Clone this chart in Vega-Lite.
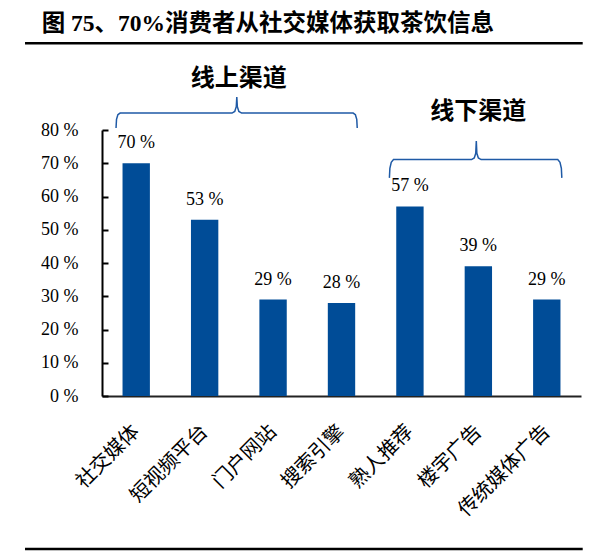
{
  "$schema": "https://vega.github.io/schema/vega-lite/v6.json",
  "width": 479,
  "height": 266,
  "autosize": "none",
  "padding": {"left": 102, "top": 130, "right": 25, "bottom": 158},
  "background": "white",
  "config": {"view": {"stroke": null}},
  "datasets": {
    "bars": [
      {"channel": "社交媒体", "share": 0.70, "label": "70 %"},
      {"channel": "短视频平台", "share": 0.53, "label": "53 %"},
      {"channel": "门户网站", "share": 0.29, "label": "29 %"},
      {"channel": "搜索引擎", "share": 0.28, "label": "28 %"},
      {"channel": "熟人推荐", "share": 0.57, "label": "57 %"},
      {"channel": "楼宇广告", "share": 0.39, "label": "39 %"},
      {"channel": "传统媒体广告", "share": 0.29, "label": "29 %"}
    ],
    "braces": [
      {"brace": "线上", "seq": 1, "px": 0.205, "py": 0.806},
      {"brace": "线上", "seq": 2, "px": 0.212, "py": 0.832},
      {"brace": "线上", "seq": 3, "px": 0.232, "py": 0.846},
      {"brace": "线上", "seq": 4, "px": 0.265, "py": 0.851},
      {"brace": "线上", "seq": 5, "px": 1.90, "py": 0.851},
      {"brace": "线上", "seq": 6, "px": 1.94, "py": 0.856},
      {"brace": "线上", "seq": 7, "px": 1.962, "py": 0.870},
      {"brace": "线上", "seq": 8, "px": 1.97, "py": 0.899},
      {"brace": "线上", "seq": 9, "px": 1.978, "py": 0.870},
      {"brace": "线上", "seq": 10, "px": 2.00, "py": 0.856},
      {"brace": "线上", "seq": 11, "px": 2.04, "py": 0.851},
      {"brace": "线上", "seq": 12, "px": 3.67, "py": 0.851},
      {"brace": "线上", "seq": 13, "px": 3.703, "py": 0.846},
      {"brace": "线上", "seq": 14, "px": 3.723, "py": 0.832},
      {"brace": "线上", "seq": 15, "px": 3.73, "py": 0.806},
      {"brace": "线下", "seq": 1, "px": 4.20, "py": 0.656},
      {"brace": "线下", "seq": 2, "px": 4.207, "py": 0.685},
      {"brace": "线下", "seq": 3, "px": 4.227, "py": 0.703},
      {"brace": "线下", "seq": 4, "px": 4.26, "py": 0.711},
      {"brace": "线下", "seq": 5, "px": 5.40, "py": 0.711},
      {"brace": "线下", "seq": 6, "px": 5.44, "py": 0.716},
      {"brace": "线下", "seq": 7, "px": 5.462, "py": 0.730},
      {"brace": "线下", "seq": 8, "px": 5.47, "py": 0.767},
      {"brace": "线下", "seq": 9, "px": 5.478, "py": 0.730},
      {"brace": "线下", "seq": 10, "px": 5.50, "py": 0.716},
      {"brace": "线下", "seq": 11, "px": 5.54, "py": 0.711},
      {"brace": "线下", "seq": 12, "px": 6.66, "py": 0.711},
      {"brace": "线下", "seq": 13, "px": 6.693, "py": 0.703},
      {"brace": "线下", "seq": 14, "px": 6.713, "py": 0.685},
      {"brace": "线下", "seq": 15, "px": 6.72, "py": 0.656}
    ],
    "groups": [
      {"px": 2.0, "py": 0.953, "text": "线上渠道"},
      {"px": 5.5, "py": 0.855, "text": "线下渠道"}
    ],
    "rules": [
      {"px": -1.125, "px2": 7.025, "py": 1.0608},
      {"px": -1.125, "px2": 7.025, "py": -0.4602}
    ],
    "heading": [
      {"px": -0.881, "py": 1.119, "text": "图 75、70%消费者从社交媒体获取茶饮信息"}
    ]
  },
  "layer": [
    {
      "data": {"name": "bars"},
      "layer": [
        {
          "mark": {"type": "bar", "color": "#004C97"},
          "encoding": {
            "x": {
              "field": "channel", "type": "nominal", "sort": null,
              "scale": {"paddingInner": 0.6, "paddingOuter": 0.3},
              "axis": {
                "title": null, "labelAngle": -45, "labelAlign": "right", "labelBaseline": "middle",
                "labelFont": "Noto Sans CJK SC", "labelFontSize": 20, "labelColor": "black",
                "labelPadding": 32, "ticks": false, "domainColor": "#222222", "domainWidth": 2,
                "labelOverlap": false
              }
            },
            "y": {
              "field": "share", "type": "quantitative",
              "scale": {"domain": [0, 0.8], "nice": false},
              "axis": null
            }
          }
        },
        {
          "mark": {"type": "text", "font": "Liberation Serif", "fontSize": 18, "color": "black", "baseline": "alphabetic", "dy": -15},
          "encoding": {
            "x": {"field": "channel", "type": "nominal", "sort": null},
            "y": {"field": "share", "type": "quantitative", "axis": null},
            "text": {"field": "label"}
          }
        }
      ]
    },
    {
      "layer": [
        {
          "data": {"name": "braces"},
          "mark": {"type": "line", "color": "#1F5AA6", "strokeWidth": 1.5},
          "encoding": {
            "x": {"field": "px", "type": "quantitative", "scale": {"domain": [0, 7], "nice": false, "zero": false}, "axis": null},
            "y": {
              "field": "py", "type": "quantitative",
              "scale": {"domain": [0, 0.8], "nice": false, "zero": false},
              "axis": {
                "orient": "left",
                "title": null, "values": [0, 0.1, 0.2, 0.3, 0.4, 0.5, 0.6, 0.7, 0.8],
                "tickCount": 12,
                "format": ".0%", "labelExpr": "replace(datum.label, '%', ' %')",
                "labelOverlap": false, "labelFlush": false,
                "grid": false, "ticks": true, "tickSize": -6, "tickColor": "#000000", "tickWidth": 2,
                "domain": true, "domainColor": "#000000", "domainWidth": 2, "domainOpacity": 1,
                "labelFont": "Liberation Serif", "labelFontSize": 18, "labelColor": "black",
                "labelPadding": 30
              }
            },
            "detail": {"field": "brace"},
            "order": {"field": "seq"}
          }
        },
        {
          "data": {"name": "groups"},
          "mark": {"type": "text", "font": "Noto Sans CJK SC", "fontWeight": "bold", "fontSize": 24, "color": "black", "baseline": "middle"},
          "encoding": {
            "x": {"field": "px", "type": "quantitative"},
            "y": {"field": "py", "type": "quantitative"},
            "text": {"field": "text"}
          }
        },
        {
          "data": {"name": "rules"},
          "mark": {"type": "rule", "color": "black", "strokeWidth": 2.5},
          "encoding": {
            "x": {"field": "px", "type": "quantitative"},
            "x2": {"field": "px2"},
            "y": {"field": "py", "type": "quantitative"}
          }
        },
        {
          "data": {"name": "heading"},
          "mark": {"type": "text", "font": "Liberation Serif, Noto Sans CJK SC", "fontWeight": "bold", "fontSize": 23.5, "color": "black", "align": "left", "baseline": "middle"},
          "encoding": {
            "x": {"field": "px", "type": "quantitative"},
            "y": {"field": "py", "type": "quantitative"},
            "text": {"field": "text"}
          }
        }
      ]
    }
  ],
  "resolve": {"scale": {"x": "independent", "y": "independent"}}
}
